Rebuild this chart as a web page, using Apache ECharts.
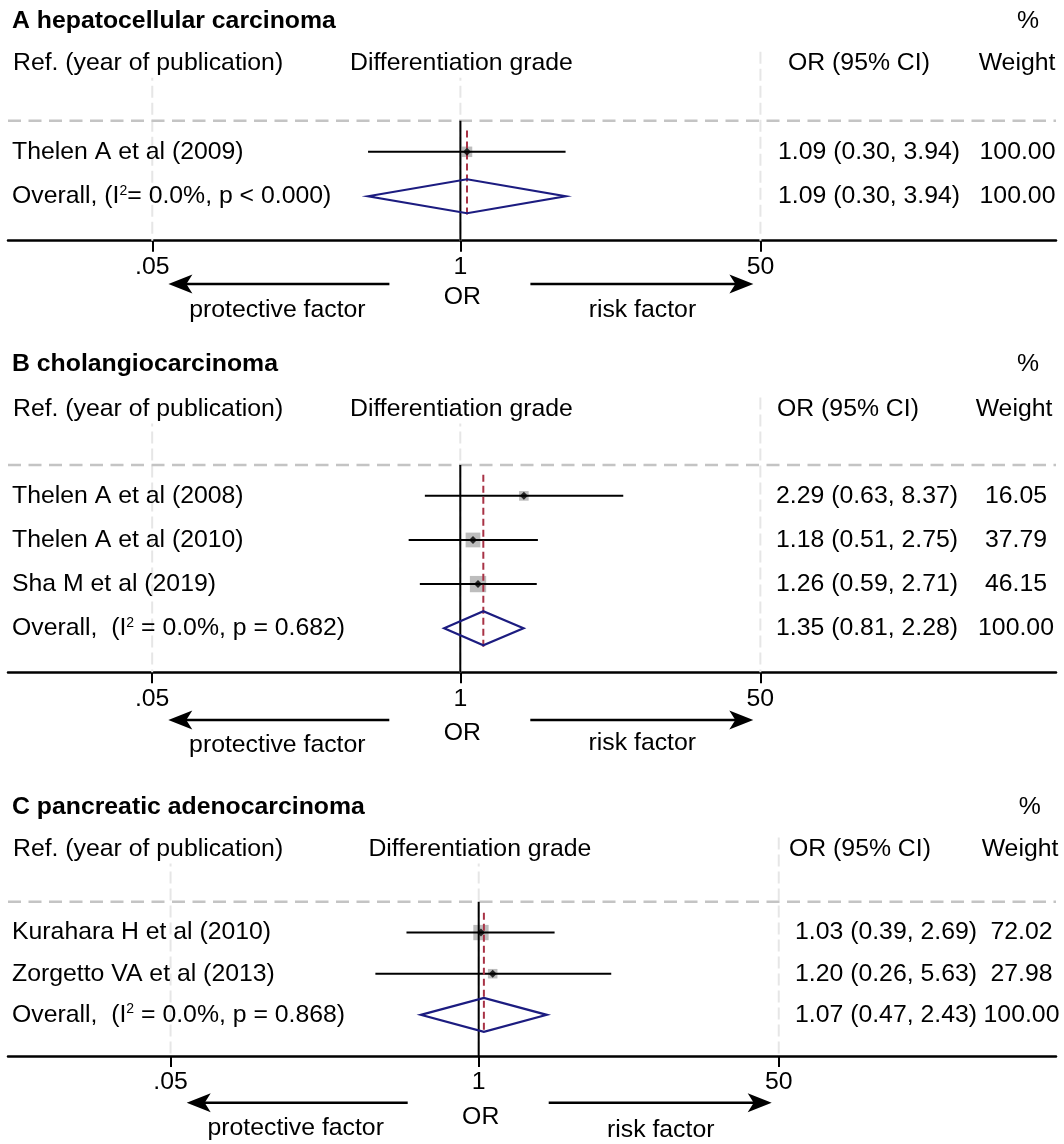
<!DOCTYPE html>
<html>
<head>
<meta charset="utf-8">
<script src="https://cdn.jsdelivr.net/npm/echarts@6/dist/echarts.min.js"></script>
<style>
  html, body { margin: 0; padding: 0; background: #ffffff; }
  #chart { width: 1064px; height: 1144px; }
</style>
</head>
<body>
<div id="chart"></div>
<script>
// ---------------- data ----------------
const panelTitles = ['A hepatocellular carcinoma', 'B cholangiocarcinoma', 'C pancreatic adenocarcinoma'];
const headerTexts = ['Ref. (year of publication)', 'Differentiation grade', 'OR (95% CI)', 'Weight', '%'];
const footerTexts = ['OR', 'protective factor', 'risk factor'];

// axis ticks (odds-ratio scale) and the labels printed at them
const tickOR = [0.018, 1, 50];
const tickText = ['.05', '1', '50'];

// A: hepatocellular carcinoma
const studiesA = ['Thelen A et al (2009)'];
const orA = [1.09];
const loA = [0.30];
const hiA = [3.94];
const weightA = [100.00];
const pooledA = [1.09, 0.30, 3.94, 100.00];
const overallTextA = 'Overall, (I{sup|2}= 0.0%, p < 0.000)';

// B: cholangiocarcinoma
const studiesB = ['Thelen A et al (2008)', 'Thelen A et al (2010)', 'Sha M et al (2019)'];
const orB = [2.29, 1.18, 1.26];
const loB = [0.63, 0.51, 0.59];
const hiB = [8.37, 2.75, 2.71];
const weightB = [16.05, 37.79, 46.15];
const pooledB = [1.35, 0.81, 2.28, 100.00];
const overallTextB = 'Overall,  (I{sup|2} = 0.0%, p = 0.682)';

// C: pancreatic adenocarcinoma
const studiesC = ['Kurahara H et al (2010)', 'Zorgetto VA et al (2013)'];
const orC = [1.03, 1.20];
const loC = [0.39, 0.26];
const hiC = [2.69, 5.63];
const weightC = [72.02, 27.98];
const pooledC = [1.07, 0.47, 2.43, 100.00];
const overallTextC = 'Overall,  (I{sup|2} = 0.0%, p = 0.868)';

// ---------------- layout ----------------
const FONT = "'Liberation Sans', Arial, Helvetica, sans-serif";
const FS = 24.8;
const PX_PER_LN = 76.7;          // horizontal pixels per unit of ln(OR)
const AX_LEFT = 8, AX_RIGHT = 1056;

const layouts = [
  { titleY: 20.7, headY: 63.3, dashY: 120.7, axisY: 240.7, x1: 460.4, yMin: 0.3,
    diffX: 349, ciHeadX: 787, ciX: 778, wHeadC: 1017, wC: 1017.5, pctC: 1028,
    arrowY: 284, orY: 296.7, protY: 310, riskY: 310, boxMax: 10.5 },
  { titleY: 364, headY: 409, dashY: 465, axisY: 672.3, x1: 460.3, yMin: 0.3,
    diffX: 349, ciHeadX: 776, ciX: 776, wHeadC: 1014, wC: 1016, pctC: 1028,
    arrowY: 720, orY: 733.3, protY: 745, riskY: 743, boxMax: 16.3 },
  { titleY: 807.3, headY: 849, dashY: 901.7, axisY: 1056, x1: 478.7, yMin: 0.25,
    diffX: 367.4, ciHeadX: 788, ciX: 795, wHeadC: 1020, wC: 1021.5, pctC: 1029.7,
    arrowY: 1102.7, orY: 1116.7, protY: 1128.3, riskY: 1130, boxMax: 15.3 }
];

const panels = [
  { studies: studiesA, or: orA, lo: loA, hi: hiA, w: weightA, pooled: pooledA, overallText: overallTextA },
  { studies: studiesB, or: orB, lo: loB, hi: hiB, w: weightB, pooled: pooledB, overallText: overallTextB },
  { studies: studiesC, or: orC, lo: loC, hi: hiC, w: weightC, pooled: pooledC, overallText: overallTextC }
];

const ln = Math.log;
const tickLn = tickOR.map(ln);
function tickLabel(v) {
  for (let i = 0; i < tickLn.length; i++) {
    if (Math.abs(tickLn[i] - v) < 1e-6) return tickText[i];
  }
  return '';
}
const baseText = { fill: '#000', fontSize: FS, fontFamily: FONT };
const supRich = { sup: { fontSize: 14, fontFamily: FONT, fill: '#000', verticalAlign: 'top' } };

const grids = [], xAxes = [], yAxes = [], series = [], graphics = [];

panels.forEach((d, p) => {
  const L = layouts[p];
  const n = d.studies.length;
  const overallRow = n + 1;
  const yMax = n + 2;
  const unit = (L.axisY - L.dashY) / (yMax - L.yMin);
  const pxToY = py => L.yMin + (py - L.dashY) / unit;
  const xMin = (AX_LEFT - L.x1) / PX_PER_LN;
  const xMax = (AX_RIGHT - L.x1) / PX_PER_LN;
  const gridTopVal = pxToY(L.headY - 11.5);

  grids.push({ left: AX_LEFT, width: AX_RIGHT - AX_LEFT, top: L.dashY, height: L.axisY - L.dashY });
  xAxes.push({
    type: 'value', gridIndex: p, min: xMin, max: xMax, position: 'bottom',
    axisLine: { show: true, onZero: false, lineStyle: { color: '#000', width: 2.5 } },
    axisTick: { show: true, customValues: tickLn, length: 11, lineStyle: { color: '#000', width: 2 } },
    axisLabel: { show: true, customValues: tickLn, formatter: tickLabel, margin: 14,
                 color: '#000', fontSize: FS, fontFamily: FONT },
    splitLine: { show: false }
  });
  yAxes.push({ type: 'value', gridIndex: p, min: L.yMin, max: yMax, inverse: true, show: false });

  const ax = { xAxisIndex: p, yAxisIndex: p };

  // faint vertical grid lines at the ticks
  series.push(Object.assign({
    type: 'custom', clip: false, z: 1, silent: true,
    data: tickLn.map(v => [v]),
    renderItem: (params, api) => {
      const a = api.coord([api.value(0), gridTopVal]);
      const b = api.coord([api.value(0), yMax]);
      return { type: 'line', shape: { x1: a[0], y1: a[1], x2: b[0], y2: b[1] },
               style: { stroke: '#e6e6e6', lineWidth: 2, lineDash: [12, 5] } };
    }
  }, ax));

  // dashed separator under the column headers
  series.push(Object.assign({
    type: 'custom', clip: false, z: 2, silent: true,
    data: [[L.yMin]],
    renderItem: (params, api) => {
      const a = api.coord([xMin, api.value(0)]);
      const b = api.coord([xMax, api.value(0)]);
      return { type: 'line', shape: { x1: a[0], y1: a[1], x2: b[0], y2: b[1] },
               style: { stroke: '#c4c4c4', lineWidth: 2.5, lineDash: [13, 7.5] } };
    }
  }, ax));

  // weight boxes
  series.push(Object.assign({
    type: 'custom', z: 3, silent: true,
    data: d.or.map((v, i) => [ln(v), i + 1, d.w[i]]),
    renderItem: (params, api) => {
      const c = api.coord([api.value(0), api.value(1)]);
      const side = L.boxMax * Math.sqrt(api.value(2) / Math.max.apply(null, d.w));
      return { type: 'rect', shape: { x: c[0] - side / 2, y: c[1] - side / 2, width: side, height: side },
               style: { fill: '#bdbdbd' } };
    }
  }, ax));

  // no-effect line at OR = 1
  series.push(Object.assign({
    type: 'line', z: 4, silent: true, symbol: 'none', animation: false,
    data: [[0, L.yMin], [0, yMax]],
    lineStyle: { color: '#000', width: 2 }
  }, ax));

  // confidence intervals
  series.push(Object.assign({
    type: 'custom', z: 5, silent: true,
    data: d.lo.map((v, i) => [ln(v), ln(d.hi[i]), i + 1]),
    renderItem: (params, api) => {
      const a = api.coord([api.value(0), api.value(2)]);
      const b = api.coord([api.value(1), api.value(2)]);
      return { type: 'line', shape: { x1: a[0], y1: a[1], x2: b[0], y2: b[1] },
               style: { stroke: '#000', lineWidth: 2 } };
    }
  }, ax));

  // pooled estimate: dashed vertical line
  series.push(Object.assign({
    type: 'line', z: 6, silent: true, symbol: 'none', animation: false,
    data: [[ln(d.pooled[0]), 1 - 0.48], [ln(d.pooled[0]), overallRow + 0.42]],
    lineStyle: { color: '#a83245', width: 2, type: [7, 4] }
  }, ax));

  // pooled estimate: diamond
  series.push(Object.assign({
    type: 'custom', z: 7, silent: true,
    data: [[ln(d.pooled[1]), ln(d.pooled[0]), ln(d.pooled[2]), overallRow]],
    renderItem: (params, api) => {
      const r = api.value(3);
      const l = api.coord([api.value(0), r]);
      const m = api.coord([api.value(1), r]);
      const h = api.coord([api.value(2), r]);
      const hh = 17;
      return { type: 'polygon',
               shape: { points: [[l[0], l[1]], [m[0], m[1] - hh], [h[0], h[1]], [m[0], m[1] + hh]] },
               style: { fill: 'none', stroke: '#1c1c80', lineWidth: 2.2 } };
    }
  }, ax));

  // study point estimates
  series.push(Object.assign({
    type: 'scatter', z: 8, silent: true, symbol: 'diamond', symbolSize: 8,
    data: d.or.map((v, i) => [ln(v), i + 1]),
    itemStyle: { color: '#000' }
  }, ax));

  // table text: study names, OR (95% CI), weights
  series.push(Object.assign({
    type: 'custom', clip: false, z: 9, silent: true,
    data: d.studies.map((s, i) => [0, i + 1]).concat([[0, overallRow]]),
    renderItem: (params, api) => {
      const i = params.dataIndex;
      const pooled = i === n;
      const y = api.coord([0, api.value(1)])[1];
      const label = pooled ? d.overallText : d.studies[i];
      const o = pooled ? d.pooled[0] : d.or[i];
      const lo = pooled ? d.pooled[1] : d.lo[i];
      const hi = pooled ? d.pooled[2] : d.hi[i];
      const w = pooled ? d.pooled[3] : d.w[i];
      const ci = o.toFixed(2) + ' (' + lo.toFixed(2) + ', ' + hi.toFixed(2) + ')';
      return { type: 'group', children: [
        { type: 'text', x: 12, y: y,
          style: Object.assign({ text: label, rich: supRich, align: 'left', verticalAlign: 'middle' }, baseText) },
        { type: 'text', x: L.ciX, y: y,
          style: Object.assign({ text: ci, align: 'left', verticalAlign: 'middle' }, baseText) },
        { type: 'text', x: L.wC, y: y,
          style: Object.assign({ text: w.toFixed(2), align: 'center', verticalAlign: 'middle' }, baseText) }
      ] };
    }
  }, ax));

  // titles, column headers
  const txt = (text, x, y, align, extra) => ({
    type: 'text', x: x, y: y, z: 50, silent: true,
    style: Object.assign({ text: text, align: align, verticalAlign: 'middle' }, baseText, extra || {})
  });
  const boxed = { backgroundColor: '#fff', padding: [2, 1] };
  graphics.push(txt(panelTitles[p], 12, L.titleY, 'left', { fontWeight: 'bold' }));
  graphics.push(txt(headerTexts[4], L.pctC, L.titleY, 'center'));
  graphics.push(txt(headerTexts[0], 12, L.headY, 'left', boxed));
  graphics.push(txt(headerTexts[1], L.diffX, L.headY, 'left', boxed));
  graphics.push(txt(headerTexts[2], L.ciHeadX, L.headY, 'left', boxed));
  graphics.push(txt(headerTexts[3], L.wHeadC, L.headY, 'center', boxed));

  // direction arrows and their captions
  const arrow = (xStart, xTip, y) => {
    const dir = xTip < xStart ? 1 : -1;
    return [
      { type: 'line', z: 50, silent: true,
        shape: { x1: xStart, y1: y, x2: xTip + dir * 12, y2: y },
        style: { stroke: '#000', lineWidth: 2.6 } },
      { type: 'polygon', z: 50, silent: true,
        shape: { points: [[xTip, y], [xTip + dir * 24, y - 9.5], [xTip + dir * 18, y], [xTip + dir * 24, y + 9.5]] },
        style: { fill: '#000' } }
    ];
  };
  arrow(L.x1 - 71, L.x1 - 292, L.arrowY).forEach(g => graphics.push(g));
  arrow(L.x1 + 70, L.x1 + 293, L.arrowY).forEach(g => graphics.push(g));
  graphics.push(txt(footerTexts[0], L.x1 + 2, L.orY, 'center'));
  graphics.push(txt(footerTexts[1], L.x1 - 183, L.protY, 'center'));
  graphics.push(txt(footerTexts[2], L.x1 + 182, L.riskY, 'center'));
});

const chart = echarts.init(document.getElementById('chart'), null, { renderer: 'canvas' });
chart.setOption({
  animation: false,
  backgroundColor: '#ffffff',
  grid: grids,
  xAxis: xAxes,
  yAxis: yAxes,
  series: series,
  graphic: graphics
});
</script>
</body>
</html>
